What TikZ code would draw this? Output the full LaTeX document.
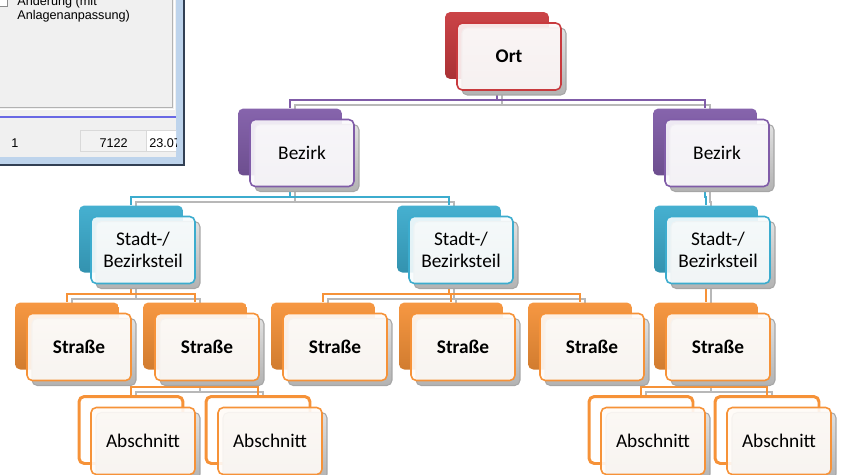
\documentclass[tikz,border=0pt]{standalone}
\usepackage{fontspec}
\setmainfont{Carlito}
\newfontfamily\winfont{Liberation Sans}
\usetikzlibrary{calc}
\usetikzlibrary{backgrounds}

\definecolor{ortc}{RGB}{200,58,62}
\definecolor{bezc}{RGB}{128,92,168}
\definecolor{stdc}{RGB}{60,172,206}
\definecolor{strc}{RGB}{246,146,56}
\definecolor{winframe}{RGB}{190,212,236}
\definecolor{winedge}{RGB}{50,64,84}
\definecolor{winface}{RGB}{240,240,240}
\definecolor{winline}{RGB}{104,104,228}

\tikzset{
 boxshape/.style={rounded corners=3pt, minimum width=2.08cm, minimum height=1.34cm, inner sep=0pt},
 backbox/.style={boxshape, top color=#1!95!white, bottom color=#1!85!black},
 emptyback/.style={boxshape, fill=white, draw=#1, line width=1.7pt},
 shadowbox/.style={boxshape, top color=black!12, bottom color=black!30, draw=black!35, line width=.6pt},
 frontbox/.style={boxshape, draw=#1, line width=.9pt, fill=#1!4!white, fill opacity=.9, text opacity=1,
   align=center, font=\fontsize{11}{12.5}\selectfont},
 link/.style={draw=#1, line width=1pt},
 linkshadow/.style={draw=black!28, line width=1.3pt},
 wintext/.style={inner sep=0pt, font=\winfont\fontsize{7.2}{8}\selectfont},
}

\newcommand\orgnode[5][backbox]{%
 \node[#1=#4] (#2) at #3 {};
 \node[shadowbox] at ([shift={(17,16)}]#2.center) {};
 \node[frontbox=#4] (#2f) at ([shift={(12,11)}]#2.center) {#5};
}

\begin{document}
\begin{tikzpicture}[x=0.02cm, y=-0.02cm]
\useasboundingbox (0,0) rectangle (845,474);
\clip (0,0) rectangle (845,474);

\orgnode{ort}{(497,45.5)}{ortc}{\bfseries Ort}
\orgnode{bezl}{(290,142)}{bezc}{Bezirk}
\orgnode{bezr}{(705,142)}{bezc}{Bezirk}
\foreach \n/\x in {stdl/131, stdm/449, stdr/706}
 \orgnode{\n}{(\x,239)}{stdc}{Stadt-/\\Bezirksteil};
\foreach \n/\x in {strA/67, strB/195, strC/323, strD/451, strE/580, strF/706}
 \orgnode{\n}{(\x,336)}{strc}{\bfseries Straße};
\foreach \n/\x in {absA/131, absB/258, absC/641, absD/767}
 \orgnode[emptyback]{\n}{(\x,430)}{strc}{Abschnitt};

\begin{pgfonlayer}{background}
\foreach \p/\c/\k in {ort/bezl/bezc, ort/bezr/bezc, bezl/stdl/stdc, bezl/stdm/stdc, bezr/stdr/stdc,
  stdl/strA/strc, stdl/strB/strc, stdm/strC/strc, stdm/strD/strc, stdm/strE/strc, stdr/strF/strc,
  strB/absA/strc, strB/absB/strc, strF/absC/strc, strF/absD/strc} {
 \draw[linkshadow] ([shift={(5,5)}]\p.south) |- ([shift={(5,-3)}]\c.north) -- ([shift={(5,5)}]\c.north);
 \draw[link=\k] (\p.south) |- ([shift={(0,-8)}]\c.north) -- (\c.north);
}
\end{pgfonlayer}

\fill[winframe] (0,0) rectangle (184,165);
\draw[winedge, line width=.8pt] (184,0) -- (184,165) -- (0,165);
\fill[winface] (0,0) rectangle (176,157);
\draw[black!30] (0,107.5) -| (172.5,0);
\draw[white] (0,109) -| (174,0);
\draw[winline, line width=1.2pt] (0,117) -- (176,117);
\filldraw[fill=white, draw=black!45] (-3,-3) rectangle (7,6);
\node[wintext, anchor=base west] (chg1) at (17,5) {Änderung (mit};
\node[wintext, anchor=base west] (chg2) at (17,19) {Anlagenanpassung)};
\node[wintext, anchor=base west] (rowno) at (11,147) {1};
\filldraw[fill=black!5, draw=black!15] (80,130) rectangle (146,151);
\node[wintext, anchor=base east] (rowval) at (128,147) {7122};
\begin{scope}
\clip (146,128) rectangle (176,153);
\filldraw[fill=white, draw=black!15] (146,130) rectangle (190,151);
\node[wintext, anchor=base west] (rowdate) at (149,147) {23.07.};
\end{scope}
\end{tikzpicture}
\end{document}
